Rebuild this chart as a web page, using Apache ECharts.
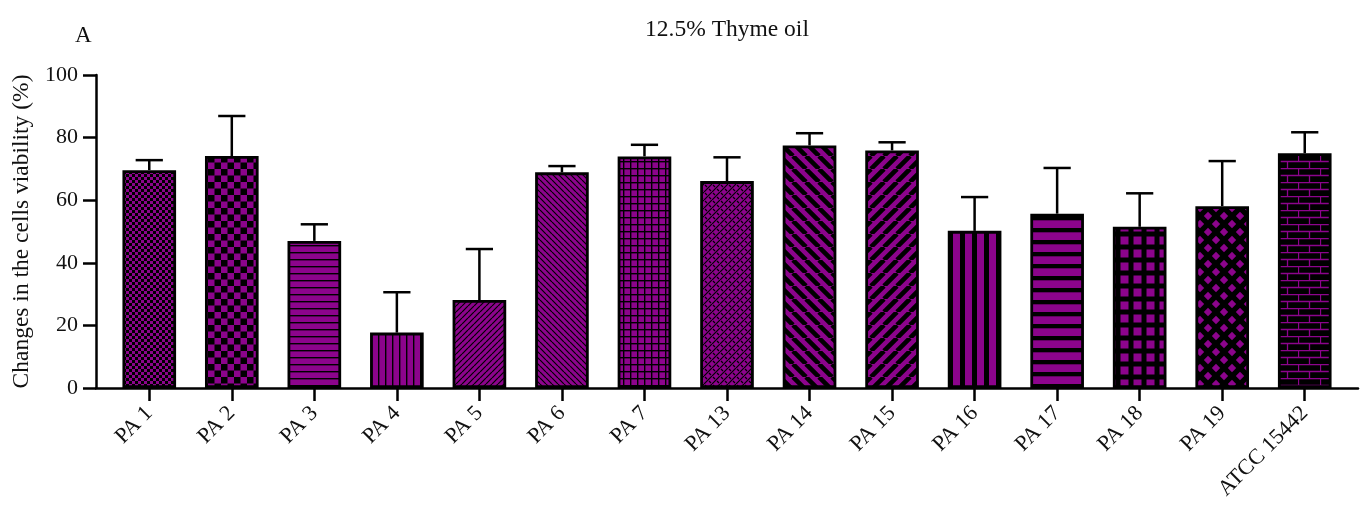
<!DOCTYPE html>
<html>
<head>
<meta charset="utf-8">
<script src="https://cdn.jsdelivr.net/npm/echarts@6/dist/echarts.min.js"></script>
<style>
  html, body { margin: 0; padding: 0; background: #fff; }
  #chart { width: 1372px; height: 508px; }
</style>
</head>
<body>
<div id="chart"></div>
<script>
// Cell viability after treatment with 12.5% thyme oil (mean + SD)
const categories = ['PA 1', 'PA 2', 'PA 3', 'PA 4', 'PA 5', 'PA 6', 'PA 7', 'PA 13',
  'PA 14', 'PA 15', 'PA 16', 'PA 17', 'PA 18', 'PA 19', 'ATCC 15442'];
const viabilityMean = [69.6, 74.1, 47.0, 17.7, 28.1, 68.9, 74.0, 66.1, 77.5, 75.9, 50.2, 55.7, 51.5, 58.1, 75.0];
const viabilitySD = [3.2, 12.8, 5.3, 12.9, 16.3, 2.0, 3.7, 7.6, 3.9, 2.6, 10.8, 14.6, 10.7, 14.4, 6.7];
const yTicks = [0, 20, 40, 60, 80, 100];

const PURPLE = '#8c048c';
const BLACK = '#000';
const FONT = '"Liberation Serif", "DejaVu Serif", serif';

// ---- fill patterns (one per strain) ----
function tile(w, h, draw) {
  const c = document.createElement('canvas');
  c.width = w; c.height = h;
  const g = c.getContext('2d');
  draw(g, w, h);
  return { image: c, repeat: 'repeat' };
}
function checker(s) {
  return tile(2 * s, 2 * s, (g) => {
    g.fillStyle = PURPLE; g.fillRect(0, 0, 2 * s, 2 * s);
    g.fillStyle = BLACK; g.fillRect(0, 0, s, s); g.fillRect(s, s, s, s);
  });
}
function hLines(period, lw, bg, fg) {
  return tile(8, period, (g, w, h) => {
    g.fillStyle = bg; g.fillRect(0, 0, w, h);
    g.fillStyle = fg; g.fillRect(0, 0, w, lw);
  });
}
function vLines(period, lw, bg, fg) {
  return tile(period, 8, (g, w, h) => {
    g.fillStyle = bg; g.fillRect(0, 0, w, h);
    g.fillStyle = fg; g.fillRect(0, 0, lw, h);
  });
}
function diag(s, lw, dir) {
  return tile(s, s, (g) => {
    g.fillStyle = PURPLE; g.fillRect(0, 0, s, s);
    g.strokeStyle = BLACK; g.lineWidth = lw;
    g.beginPath();
    for (let k = -1; k <= 1; k++) {
      if (dir === '/') { g.moveTo(k * s, s); g.lineTo((k + 1) * s, 0); }
      else { g.moveTo(k * s, 0); g.lineTo((k + 1) * s, s); }
    }
    g.stroke();
  });
}
function gridLines(p, lw) {
  return tile(p, p, (g) => {
    g.fillStyle = PURPLE; g.fillRect(0, 0, p, p);
    g.fillStyle = BLACK; g.fillRect(0, 0, p, lw); g.fillRect(0, 0, lw, p);
  });
}
function weave() {
  return tile(8, 8, (g) => {
    g.fillStyle = PURPLE; g.fillRect(0, 0, 8, 8);
    g.strokeStyle = BLACK; g.lineWidth = 1.2;
    g.beginPath();
    for (let k = -1; k <= 1; k++) { g.moveTo(k * 8, 8); g.lineTo((k + 1) * 8, 0); }
    g.moveTo(1, 1); g.lineTo(3, 3);
    g.moveTo(5, 5); g.lineTo(7, 7);
    g.stroke();
  });
}
function squares() {
  return tile(13, 13, (g) => {
    g.fillStyle = BLACK; g.fillRect(0, 0, 13, 13);
    g.fillStyle = PURPLE; g.fillRect(2.5, 2.5, 8, 8);
  });
}
function diamonds() {
  return tile(16, 16, (g) => {
    g.fillStyle = BLACK; g.fillRect(0, 0, 16, 16);
    g.fillStyle = PURPLE;
    const r = 4.2;
    [[8, 8], [0, 0], [16, 0], [0, 16], [16, 16]].forEach(([cx, cy]) => {
      g.beginPath();
      g.moveTo(cx, cy - r); g.lineTo(cx + r, cy); g.lineTo(cx, cy + r); g.lineTo(cx - r, cy);
      g.closePath(); g.fill();
    });
  });
}
function bricks() {
  return tile(22, 14, (g) => {
    g.fillStyle = BLACK; g.fillRect(0, 0, 22, 14);
    g.strokeStyle = PURPLE; g.lineWidth = 1.3;
    g.beginPath();
    g.moveTo(0, 0.5); g.lineTo(22, 0.5);
    g.moveTo(0, 7.5); g.lineTo(22, 7.5);
    g.moveTo(0.5, 0); g.lineTo(0.5, 7.5);
    g.moveTo(11.5, 7.5); g.lineTo(11.5, 14);
    g.stroke();
  });
}

const patterns = [
  checker(3),                         // PA 1
  checker(6.5),                       // PA 2
  hLines(7, 1.4, PURPLE, BLACK),      // PA 3
  vLines(7.5, 1.4, PURPLE, BLACK),    // PA 4
  diag(6, 1.2, '/'),                  // PA 5
  diag(6, 1.2, '\\'),                 // PA 6
  gridLines(7, 1.4),                  // PA 7
  weave(),                            // PA 13
  diag(13, 4.6, '\\'),                // PA 14
  diag(13, 4.6, '/'),                 // PA 15
  vLines(12.5, 5, PURPLE, BLACK),     // PA 16
  hLines(12.5, 4.3, PURPLE, BLACK),   // PA 17
  squares(),                          // PA 18
  diamonds(),                         // PA 19
  bricks()                            // ATCC 15442
];

const chart = echarts.init(document.getElementById('chart'), null, { renderer: 'canvas' });

const axisStroke = { color: BLACK, width: 2.5 };

const option = {
  backgroundColor: '#fff',
  animation: false,
  title: [
    { text: 'A', left: 70, top: 19, textStyle: { fontFamily: FONT, fontSize: 23, fontWeight: 'normal', color: '#111' } },
    { text: '12.5% Thyme oil', left: 722, top: 13, textAlign: 'center',
      textStyle: { fontFamily: FONT, fontSize: 23.5, fontWeight: 'normal', color: '#111' } }
  ],
  grid: [
    { left: 108, top: 75, width: 1238, height: 313 },   // bars
    { left: 96, top: 75, width: 1262, height: 313 }     // axis frame
  ],
  xAxis: [
    {
      type: 'category', gridIndex: 0, data: categories,
      axisLine: { show: false },
      axisTick: { show: true, alignWithLabel: true, length: 13, lineStyle: axisStroke },
      axisLabel: { rotate: 45, margin: 22, fontFamily: FONT, fontSize: 22, color: '#111' },
      splitLine: { show: false }
    },
    {
      type: 'value', gridIndex: 1, min: 0, max: 1,
      axisLine: { show: true, lineStyle: axisStroke },
      axisTick: { show: false }, axisLabel: { show: false }, splitLine: { show: false }
    }
  ],
  yAxis: [
    { type: 'value', gridIndex: 0, min: 0, max: 100, show: false, splitLine: { show: false } },
    {
      type: 'value', gridIndex: 1, min: yTicks[0], max: yTicks[yTicks.length - 1], interval: 20,
      name: 'Changes in the cells viability (%)', nameLocation: 'middle', nameGap: 62,
      nameTextStyle: { fontFamily: FONT, fontSize: 23.5, color: '#111' },
      axisLine: { show: true, lineStyle: axisStroke },
      axisTick: { show: true, length: 13, lineStyle: axisStroke },
      axisLabel: { margin: 18, fontFamily: FONT, fontSize: 22, color: '#111' },
      splitLine: { show: false }
    }
  ],
  series: [
    {
      type: 'bar', xAxisIndex: 0, yAxisIndex: 0, barWidth: '65%',
      data: viabilityMean.map((v, i) => ({
        value: v,
        itemStyle: { color: patterns[i], borderColor: BLACK, borderWidth: 2.8 }
      }))
    },
    {
      type: 'custom', xAxisIndex: 0, yAxisIndex: 0, z: 5,
      data: categories.map((c, i) => [i, viabilityMean[i], viabilitySD[i]]),
      encode: { x: 0, y: 1 },
      renderItem: function (params, api) {
        const i = api.value(0), m = api.value(1), sd = api.value(2);
        const base = api.coord([i, m]);
        const top = api.coord([i, m + sd]);
        const half = api.size([1, 0])[0] * 0.165;
        const st = { stroke: BLACK, lineWidth: 2.5 };
        return {
          type: 'group',
          children: [
            { type: 'line', shape: { x1: base[0], y1: base[1], x2: top[0], y2: top[1] }, style: st },
            { type: 'line', shape: { x1: top[0] - half, y1: top[1], x2: top[0] + half, y2: top[1] }, style: st }
          ]
        };
      }
    }
  ]
};

chart.setOption(option);
</script>
</body>
</html>
